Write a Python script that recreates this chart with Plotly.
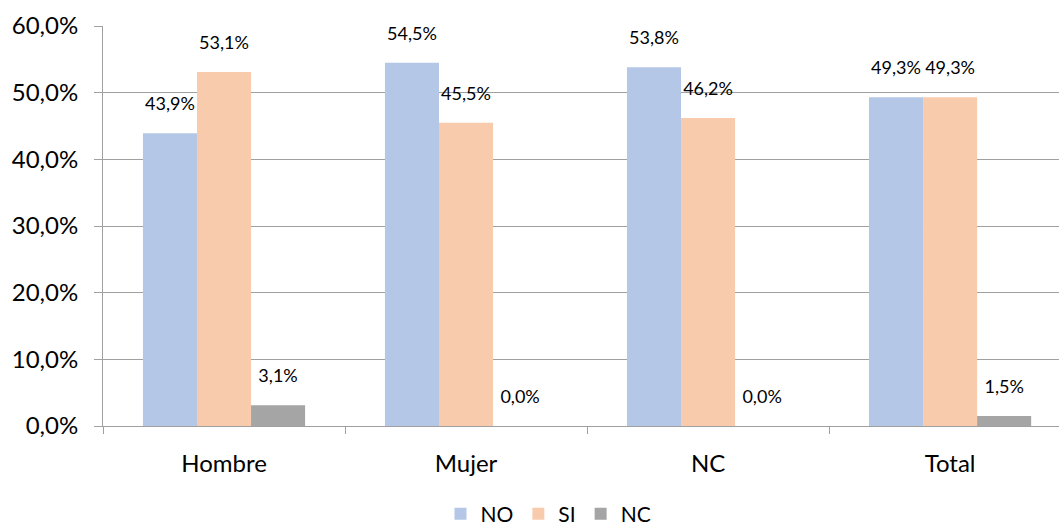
import plotly.graph_objects as go

categories = ["Hombre", "Mujer", "NC", "Total"]
no_vals = [0.439, 0.545, 0.538, 0.493]
si_vals = [0.531, 0.455, 0.462, 0.493]
nc_vals = [0.031, 0.0, 0.0, 0.015]

series = [("NO", no_vals, "#b4c7e7"), ("SI", si_vals, "#f8cbad"), ("NC", nc_vals, "#a5a5a5")]

fig = go.Figure()
for name, vals, col in series:
    fig.add_trace(go.Bar(
        x=categories, y=vals, name=name, marker_color=col, marker_line_width=0,
        texttemplate="<span style='font-size:18px'>%{y:.1%}</span><br> ",
        textposition="outside", constraintext="none",
        cliponaxis=False, textfont=dict(size=13, color="#000000"),
    ))

fig.update_layout(
    width=1059, height=527,
    margin=dict(l=103, r=0, t=26, b=101, autoexpand=False),
    paper_bgcolor="white", plot_bgcolor="white",
    separators=",.",
    barmode="group", bargap=0.33, bargroupgap=0,
    font=dict(family="Lato, Open Sans, sans-serif", color="#000000"),
    showlegend=True,
    legend=dict(orientation="h", x=0.466, xanchor="center", y=-0.22, yanchor="middle",
                font=dict(size=21), itemwidth=30, traceorder="normal"),
    xaxis=dict(range=[-0.5, 3.45], showline=True, linecolor="#a0a0a0", linewidth=1,
               ticks="outside", tickson="boundaries", ticklen=7, tickcolor="#a0a0a0",
               tickfont=dict(size=24), ticklabelstandoff=16, showgrid=False, automargin=False),
    yaxis=dict(range=[0, 0.6], tickvals=[0, 0.1, 0.2, 0.3, 0.4, 0.5, 0.6], tickformat=".1%",
               showline=True, linecolor="#a0a0a0", linewidth=1,
               ticks="outside", ticklen=8, tickcolor="#a0a0a0",
               showgrid=True, gridcolor="#a0a0a0", gridwidth=1,
               tickfont=dict(size=24), ticklabelstandoff=11, zeroline=False, automargin=False),
)

fig.write_html("out.html", config={"displayModeBar": False},
               post_script="document.body.style.margin='0';document.body.style.overflow='hidden';")
